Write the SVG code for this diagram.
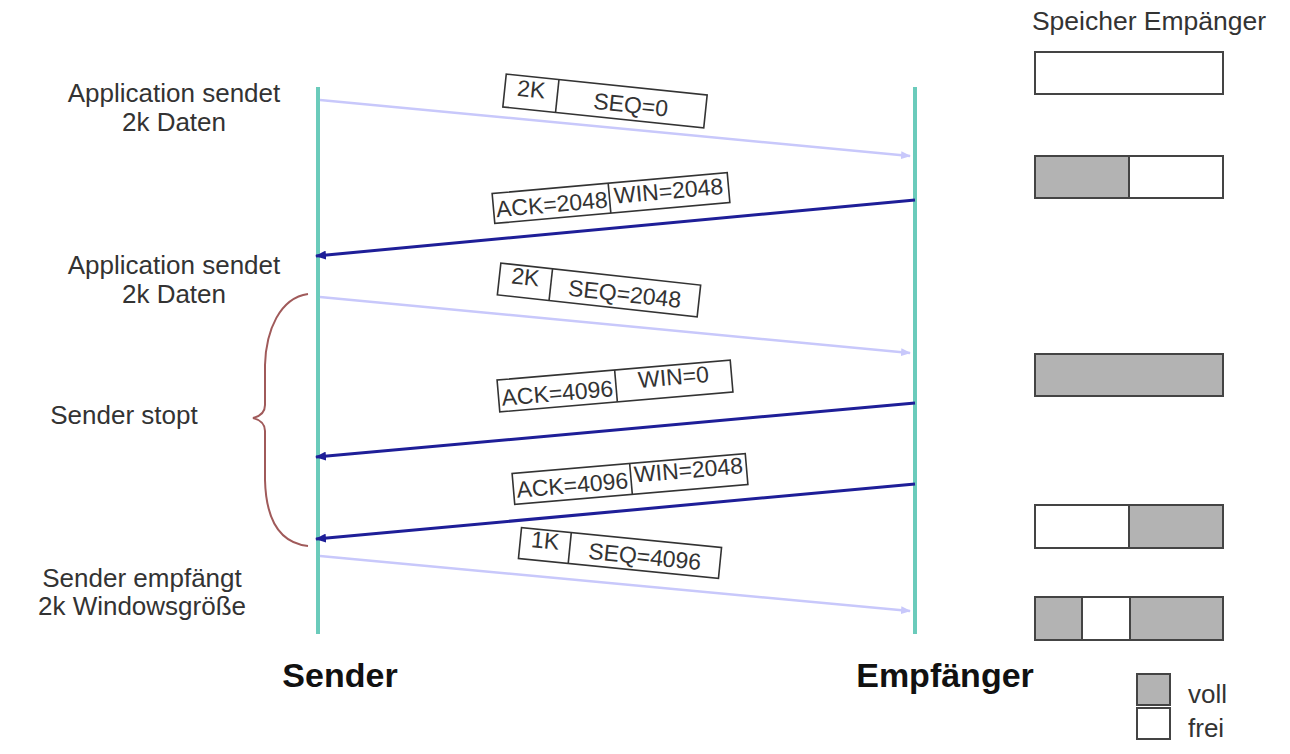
<svg xmlns="http://www.w3.org/2000/svg" width="1290" height="754" viewBox="0 0 1290 754">
<defs>
<style>
.t{font-family:"Liberation Sans",Arial,sans-serif;fill:#333;font-size:26px}
.pk{font-family:"Liberation Sans",Arial,sans-serif;fill:#333;font-size:23px}
.big{font-family:"Liberation Sans",Arial,sans-serif;fill:#111;font-size:34px;font-weight:bold}
.box{fill:#fff;stroke:#333;stroke-width:1.6}
.mem{stroke:#444;stroke-width:2}
.full{fill:#b3b3b3}
.free{fill:#fff}
.life{stroke:#6bcbbb;stroke-width:4}
.light{stroke:#c8c8fb;stroke-width:2.5;fill:none}
.dark{stroke:#1e1e98;stroke-width:3;fill:none}
</style>
<marker id="ah-light" markerWidth="10" markerHeight="8" refX="9" refY="4" orient="auto" markerUnits="userSpaceOnUse">
<path d="M0,0 L10,4 L0,8 Z" fill="#c8c8fb"/>
</marker>
<marker id="ah-dark" markerWidth="11" markerHeight="9" refX="10" refY="4.5" orient="auto" markerUnits="userSpaceOnUse">
<path d="M0,0 L11,4.5 L0,9 Z" fill="#1e1e98"/>
</marker>
</defs>
<rect width="1290" height="754" fill="#fff"/>

<g id="lifelines">
<line class="life" x1="318" y1="87" x2="318" y2="634"/>
<line class="life" x1="915" y1="87" x2="915" y2="634"/>
</g>

<g id="connectors">
<line class="light" x1="320" y1="100" x2="910" y2="156" marker-end="url(#ah-light)"/>
<line class="dark" x1="915" y1="200" x2="316" y2="256" marker-end="url(#ah-dark)"/>
<line class="light" x1="320" y1="297" x2="910" y2="353" marker-end="url(#ah-light)"/>
<line class="dark" x1="915" y1="403" x2="316" y2="457" marker-end="url(#ah-dark)"/>
<line class="dark" x1="915" y1="484" x2="316" y2="539" marker-end="url(#ah-dark)"/>
<line class="light" x1="320" y1="556" x2="910" y2="611" marker-end="url(#ah-light)"/>
</g>

<g id="brace">
<path d="M308,294 C280,298 266,330 265,365 L265,405 Q265,415 253,418 Q265,421 265,431 L265,480 C266,520 280,543 308,546" fill="none" stroke="#a05a5a" stroke-width="2"/>
</g>

<g id="pkt1" transform="translate(605,101) rotate(5.96)">
<rect class="box" x="-101" y="-16.5" width="202" height="33"/>
<line stroke="#333" stroke-width="1.6" x1="-48" y1="-16.5" x2="-48" y2="16.5"/>
<text class="pk" x="-74.5" y="4" text-anchor="middle">2K</text>
<text class="pk" x="26" y="9" text-anchor="middle">SEQ=0</text>
</g>

<g id="pkt2" transform="translate(611,198) rotate(-5.1)">
<rect class="box" x="-118" y="-15" width="236" height="30"/>
<line stroke="#333" stroke-width="1.6" x1="-1.5" y1="-15" x2="-1.5" y2="15"/>
<text class="pk" x="-59.5" y="9" text-anchor="middle">ACK=2048</text>
<text class="pk" x="58" y="6" text-anchor="middle">WIN=2048</text>
</g>

<g id="pkt3" transform="translate(599,290) rotate(6.3)">
<rect class="box" x="-100.5" y="-16" width="201" height="32"/>
<line stroke="#333" stroke-width="1.6" x1="-48.5" y1="-16" x2="-48.5" y2="16"/>
<text class="pk" x="-74.5" y="3" text-anchor="middle">2K</text>
<text class="pk" x="26" y="9" text-anchor="middle">SEQ=2048</text>
</g>

<g id="pkt4" transform="translate(615,386) rotate(-4.9)">
<rect class="box" x="-117" y="-16" width="234" height="32"/>
<line stroke="#333" stroke-width="1.6" x1="1" y1="-16" x2="1" y2="16"/>
<text class="pk" x="-58" y="10" text-anchor="middle">ACK=4096</text>
<text class="pk" x="59" y="4" text-anchor="middle">WIN=0</text>
</g>

<g id="pkt5" transform="translate(630,479) rotate(-4.9)">
<rect class="box" x="-117" y="-15.5" width="234" height="31"/>
<line stroke="#333" stroke-width="1.6" x1="1" y1="-15.5" x2="1" y2="15.5"/>
<text class="pk" x="-58" y="9" text-anchor="middle">ACK=4096</text>
<text class="pk" x="59" y="4" text-anchor="middle">WIN=2048</text>
</g>

<g id="pkt6" transform="translate(620,553) rotate(5.7)">
<rect class="box" x="-100.5" y="-15.5" width="201" height="31"/>
<line stroke="#333" stroke-width="1.6" x1="-50.5" y1="-15.5" x2="-50.5" y2="15.5"/>
<text class="pk" x="-75.5" y="3" text-anchor="middle">1K</text>
<text class="pk" x="25" y="9" text-anchor="middle">SEQ=4096</text>
</g>

<g id="label-app1">
<text class="t" x="174" y="102" text-anchor="middle">Application sendet</text>
<text class="t" x="174" y="131" text-anchor="middle">2k Daten</text>
</g>
<g id="label-app2">
<text class="t" x="174" y="274" text-anchor="middle">Application sendet</text>
<text class="t" x="174" y="303" text-anchor="middle">2k Daten</text>
</g>
<g id="label-stop">
<text class="t" x="124" y="424" text-anchor="middle">Sender stopt</text>
</g>
<g id="label-recv">
<text class="t" x="142" y="587" text-anchor="middle">Sender empfängt</text>
<text class="t" x="142" y="615" text-anchor="middle">2k Windowsgröße</text>
</g>

<g id="sender-title">
<text class="big" x="340" y="687" text-anchor="middle">Sender</text>
</g>
<g id="receiver-title">
<text class="big" x="945" y="687" text-anchor="middle">Empfänger</text>
</g>

<g id="memory">
<text class="t" x="1149" y="30" text-anchor="middle" style="font-size:26.5px">Speicher Empänger</text>
<rect class="mem free" x="1035" y="52" width="188" height="42"/>

<rect class="mem full" x="1035" y="156" width="94" height="42"/>
<rect class="mem free" x="1129" y="156" width="94" height="42"/>

<rect class="mem full" x="1035" y="354" width="188" height="42"/>

<rect class="mem free" x="1035" y="505" width="94" height="43"/>
<rect class="mem full" x="1129" y="505" width="94" height="43"/>

<rect class="mem full" x="1035" y="597" width="47" height="43"/>
<rect class="mem free" x="1082" y="597" width="48" height="43"/>
<rect class="mem full" x="1130" y="597" width="93" height="43"/>
</g>

<g id="legend">
<rect class="mem full" x="1137" y="674" width="33" height="31"/>
<rect class="mem free" x="1137" y="708" width="33" height="31"/>
<text class="t" x="1188" y="703">voll</text>
<text class="t" x="1188" y="737">frei</text>
</g>
</svg>
